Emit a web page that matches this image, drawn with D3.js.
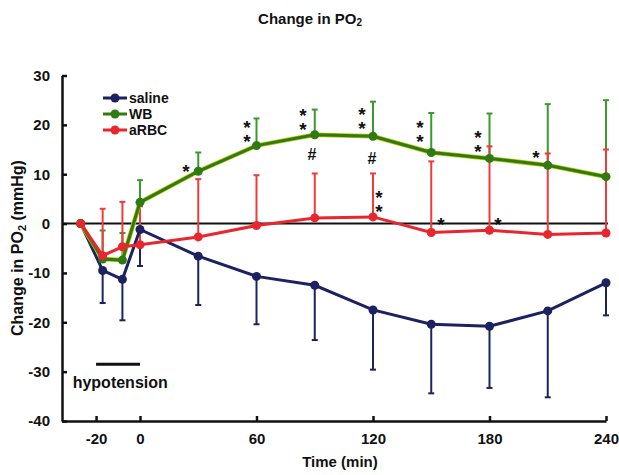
<!DOCTYPE html>
<html>
<head>
<meta charset="utf-8">
<script src="https://cdn.jsdelivr.net/npm/d3@7"></script>
<style>
  body { margin: 0; background: #fff; }
  text { font-family: "Liberation Sans", Arial, sans-serif; font-weight: bold; fill: #111; }
</style>
</head>
<body>
<script>
// time points (min), baseline first
const times = [-27, -17, -8, 0, 30, 60, 90, 120, 150, 180, 210, 240];

const saline   = [0, -9.5, -11.3, -1.2, -6.6, -10.7, -12.5, -17.5, -20.4, -20.8, -17.7, -12.0];
const salineSD = [0, 6.6, 8.3, 7.4, 9.9, 9.7, 11.1, 12.1, 14.0, 12.5, 17.5, 6.6];

const wb   = [0, -7.2, -7.4, 4.3, 10.6, 15.8, 18.0, 17.7, 14.4, 13.2, 11.8, 9.5];
const wbSD = [0, 5.8, 5.5, 4.5, 3.8, 5.5, 5.1, 7.0, 8.0, 9.1, 12.4, 15.5];

const arbc   = [0, -6.5, -4.7, -4.3, -2.7, -0.4, 1.15, 1.35, -1.8, -1.35, -2.2, -1.9];
const arbcSD = [0, 9.5, 9.1, 7.8, 11.7, 10.2, 9.0, 8.8, 14.4, 17.0, 16.4, 16.9];

const xTicks = [-20, 0, 60, 120, 180, 240];
const yTicks = [-40, -30, -20, -10, 0, 10, 20, 30];

// significance marks (time, value of the top symbol, symbol; "**" = two stacked)
const annTimes  = [23.7, 55.1, 83.9, 114.3, 144.2, 174, 203.9, 123.1, 155, 184.3, 88.6, 119.5];
const annValues = [11.6, 20.5, 22.9, 23.1, 20.5, 18.5, 14.4, 6.3, 0.8, 0.8, 14.0, 13.2];
const annLabels = ["*", "**", "**", "**", "**", "**", "*", "**", "*", "*", "#", "#"];

// hypotension period
const hypoStart = -20, hypoEnd = 0, hypoLevel = -28.5;

const width = 619;
const height = 475;

const svg = d3.select("body")
  .append("svg")
  .attr("width", width)
  .attr("height", height);

// hypotension section is drawn wider than the rest of the time axis
const x = d3.scaleLinear().domain([-35.5, 0, 240]).range([62, 140, 606]);
const y = d3.scaleLinear().domain([-40, 30]).range([421, 75.5]);

const series = [
  { name: "saline", values: saline, sd: salineSD, dir: -1, color: "#1c2260", bar: "#1c2260" },
  { name: "WB", values: wb, sd: wbSD, dir: 1, color: "#2f7a12", bar: "#3a9a2a" },
  { name: "aRBC", values: arbc, sd: arbcSD, dir: 1, color: "#e8262d", bar: "#ee3b3b" }
];

// title
svg.append("text")
  .attr("x", 310).attr("y", 24)
  .attr("text-anchor", "middle")
  .style("font-size", "15px")
  .text("Change in PO")
  .append("tspan").attr("dy", 2).style("font-size", "10px").text("2");

// axes
const xAxis = svg.append("g")
  .attr("transform", `translate(0,${y(-40)})`)
  .call(d3.axisBottom(x).tickValues(xTicks).tickFormat(d => String(d))
    .tickSizeInner(-5).tickSizeOuter(0).tickPadding(12));

const yAxis = svg.append("g")
  .attr("transform", `translate(${x(-35.5)},0)`)
  .call(d3.axisLeft(y).tickValues(yTicks).tickFormat(d => String(d))
    .tickSizeInner(-5).tickSizeOuter(0).tickPadding(12));

[xAxis, yAxis].forEach(g => {
  g.selectAll("path, line").attr("stroke", "#111").attr("stroke-width", 2.5);
  g.selectAll("text").style("font-size", "15px").attr("fill", "#111");
});

// zero line
svg.append("line")
  .attr("x1", x(-35.5)).attr("x2", x(240) + 2)
  .attr("y1", y(0)).attr("y2", y(0))
  .attr("stroke", "#111").attr("stroke-width", 2);

// axis titles
svg.append("text")
  .attr("x", 340).attr("y", 467)
  .attr("text-anchor", "middle")
  .style("font-size", "15px")
  .text("Time (min)");

const yt = svg.append("text")
  .attr("transform", "translate(23,248) rotate(-90)")
  .attr("text-anchor", "middle")
  .style("font-size", "16px");
yt.append("tspan").text("Change in PO");
yt.append("tspan").attr("dy", 3).style("font-size", "11px").text("2");
yt.append("tspan").attr("dy", -3).text(" (mmHg)");

// error bars
series.forEach(s => {
  const pts = times.map((t, i) => ({ t, v: s.values[i], e: s.values[i] + s.dir * s.sd[i] }))
    .filter(d => d.e !== d.v);
  const g = svg.append("g").attr("stroke", s.bar).attr("stroke-width", 2);
  g.selectAll(".stem").data(pts).join("line")
    .attr("x1", d => x(d.t)).attr("x2", d => x(d.t))
    .attr("y1", d => y(d.v)).attr("y2", d => y(d.e));
  g.selectAll(".cap").data(pts).join("line")
    .attr("x1", d => x(d.t) - 3).attr("x2", d => x(d.t) + 3)
    .attr("y1", d => y(d.e)).attr("y2", d => y(d.e));
});

// lines and markers
const line = d3.line().x((d, i) => x(times[i])).y(d => y(d));
series.forEach(s => {
  if (s.name === "WB") {
    svg.append("path").datum(s.values)
      .attr("d", line).attr("fill", "none")
      .attr("stroke", "#b9c400").attr("stroke-width", 4.5);
  }
  svg.append("path").datum(s.values)
    .attr("d", line).attr("fill", "none")
    .attr("stroke", s.color).attr("stroke-width", 3);
  svg.append("g").selectAll("circle").data(s.values).join("circle")
    .attr("cx", (d, i) => x(times[i])).attr("cy", d => y(d))
    .attr("r", 4.5).attr("fill", s.color);
});

// significance marks, stacked asterisks share one text element
svg.append("g").selectAll("text").data(annLabels).join("text")
  .attr("text-anchor", "middle")
  .style("font-size", d => d === "#" ? "16px" : "19px")
  .each(function(d, i) {
    const t = d3.select(this);
    const cx = x(annTimes[i]);
    const cy = y(annValues[i]);
    if (d === "#") {
      t.attr("x", cx).attr("y", cy).attr("dy", "0.36em").text(d);
      return;
    }
    d.split("").forEach((c, k) => {
      t.append("tspan")
        .attr("x", cx)
        .attr("y", cy + k * 14)
        .attr("dy", "0.6em")
        .text(c);
    });
  });

// hypotension bar
svg.append("line")
  .attr("x1", x(hypoStart)).attr("x2", x(hypoEnd))
  .attr("y1", y(hypoLevel)).attr("y2", y(hypoLevel))
  .attr("stroke", "#111").attr("stroke-width", 3);
svg.append("text")
  .attr("x", x(-9)).attr("y", y(hypoLevel) + 24)
  .attr("text-anchor", "middle")
  .style("font-size", "16px")
  .text("hypotension");

// legend
const legend = svg.append("g").attr("transform", "translate(103,98)");
series.forEach((s, i) => {
  const row = legend.append("g").attr("transform", `translate(0,${i * 16})`);
  row.append("line").attr("x1", 0).attr("x2", 24)
    .attr("stroke", s.color).attr("stroke-width", 3);
  row.append("circle").attr("cx", 12).attr("r", 4.5).attr("fill", s.color);
  row.append("text").attr("x", 26).attr("dy", "0.35em")
    .style("font-size", "14px").text(s.name);
});
</script>
</body>
</html>
